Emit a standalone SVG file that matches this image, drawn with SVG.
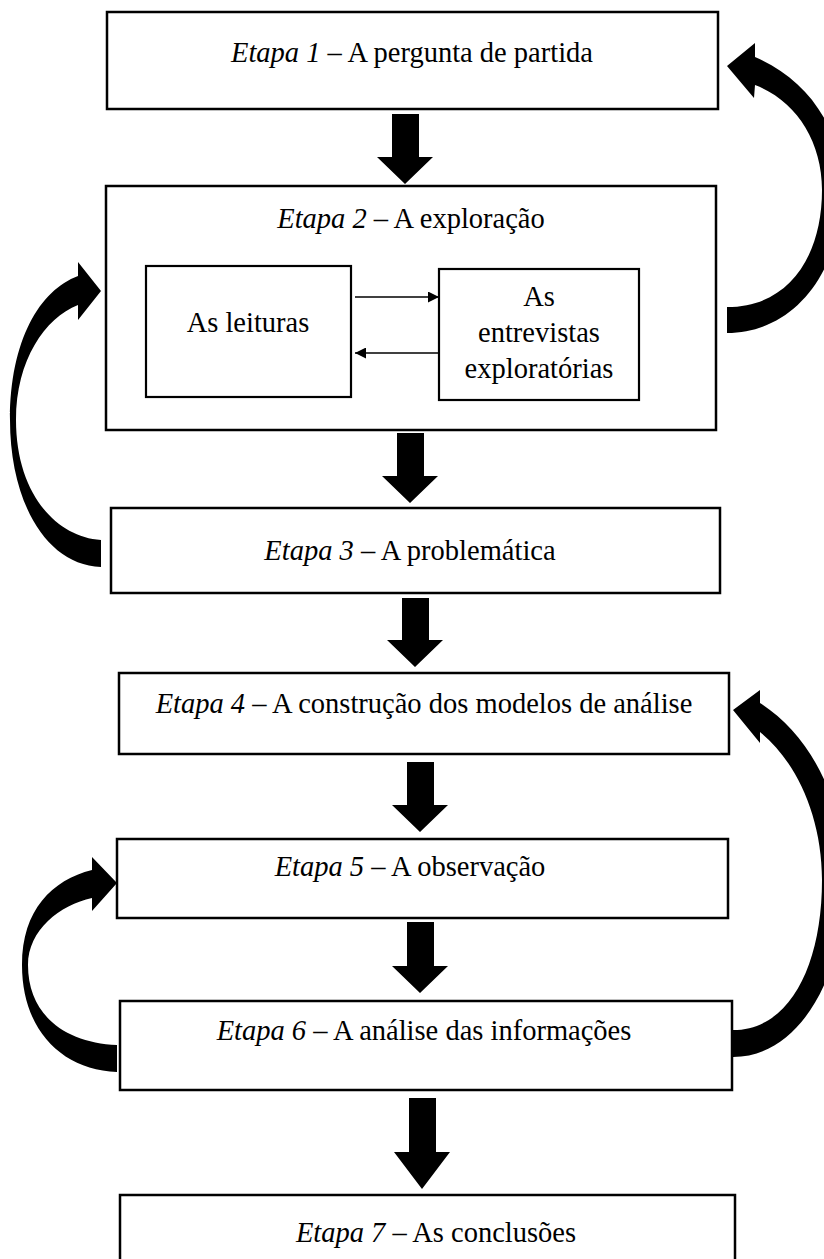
<svg xmlns="http://www.w3.org/2000/svg" width="824" height="1259" viewBox="0 0 824 1259">
<defs>
<style>
.box{fill:#fff;stroke:#000;stroke-width:2.5}
.ibox{fill:#fff;stroke:#000;stroke-width:2.2}
.t{font-family:"Liberation Serif","Times New Roman",serif;font-size:28.5px;fill:#000;text-anchor:middle}
.i{font-style:italic}
.blk{fill:#000}
.thin{stroke:#000;stroke-width:1.4;fill:none}
</style>
<marker id="ah" viewBox="0 0 10 10" refX="10" refY="5" markerWidth="12" markerHeight="11" markerUnits="userSpaceOnUse" orient="auto">
<path d="M0,0 L10,5 L0,10 Z" fill="#000"/>
</marker>
</defs>
<rect width="824" height="1259" fill="#fff"/>

<g id="etapa1">
<rect class="box" x="107" y="12" width="611" height="97"/>
<text class="t" x="412" y="62"><tspan class="i">Etapa 1</tspan> – A pergunta de partida</text>
</g>

<g id="etapa2">
<rect class="box" x="106" y="186" width="610" height="244"/>
<text class="t" x="411" y="228"><tspan class="i">Etapa 2</tspan> – A exploração</text>
</g>

<g id="leituras">
<rect class="ibox" x="146" y="266" width="205" height="131"/>
<text class="t" x="248" y="332">As leituras</text>
</g>

<g id="entrevistas">
<rect class="ibox" x="439" y="269" width="200" height="131"/>
<text class="t" x="539" y="306">As</text>
<text class="t" x="539" y="342">entrevistas</text>
<text class="t" x="539" y="378">exploratórias</text>
</g>

<g id="etapa3">
<rect class="box" x="111" y="508" width="609" height="85"/>
<text class="t" x="410" y="560"><tspan class="i">Etapa 3</tspan> – A problemática</text>
</g>

<g id="etapa4">
<rect class="box" x="119" y="673" width="610" height="81"/>
<text class="t" x="424" y="713"><tspan class="i">Etapa 4</tspan> – A construção dos modelos de análise</text>
</g>

<g id="etapa5">
<rect class="box" x="117" y="839" width="611" height="79"/>
<text class="t" x="410" y="876"><tspan class="i">Etapa 5</tspan> – A observação</text>
</g>

<g id="etapa6">
<rect class="box" x="120" y="1001" width="612" height="89"/>
<text class="t" x="424" y="1040"><tspan class="i">Etapa 6</tspan> – A análise das informações</text>
</g>

<g id="etapa7">
<rect class="box" x="120" y="1195" width="615" height="70"/>
<text class="t" x="436" y="1242"><tspan class="i">Etapa 7</tspan> – As conclusões</text>
</g>

<g id="connectors">
<line class="thin" x1="355" y1="297" x2="439" y2="297" marker-end="url(#ah)"/>
<line class="thin" x1="439" y1="353" x2="355" y2="353" marker-end="url(#ah)"/>

<path class="blk" d="M392,114 H419 V157 H433 L405,184 L377,157 H392 Z"/>
<path class="blk" d="M397,433 H424 V476 H438 L410,503 L382,476 H397 Z"/>
<path class="blk" d="M402,598 H429 V640 H443 L415,667 L387,640 H402 Z"/>
<path class="blk" d="M407,762 H434 V805 H448 L420,832 L392,805 H407 Z"/>
<path class="blk" d="M407,922 H434 V966 H448 L420,993 L392,966 H407 Z"/>
<path class="blk" d="M409,1098 H436 V1152 H450 L422,1189 L394,1152 H409 Z"/>

<path class="blk" d="M727,333 C795,333 842,270 842,190 C842,125 805,78 755,57 L755,43 L727,66 L754,98 L755,85 C795,100 822,140 822,190 C822,255 790,307 727,307 Z"/>
<path class="blk" d="M101,567 C45,565 10,500 10,420 C10,340 40,290 78,276 L78,262 L101,291 L78,320 L78,305 C45,318 16,360 16,420 C16,492 55,537 101,540 Z"/>
<path class="blk" d="M117,1072 C62,1070 22,1030 22,965 C22,910 52,880 92,870 L92,857 L117,883 L92,911 L92,898 C60,905 28,930 28,965 C28,1015 65,1043 117,1045 Z"/>
<path class="blk" d="M733,1057 C800,1057 845,975 845,880 C845,800 810,735 760,703 L760,690 L733,710 L760,743 L760,732 C795,760 822,815 822,880 C822,965 790,1030 733,1030 Z"/>
</g>
</svg>
